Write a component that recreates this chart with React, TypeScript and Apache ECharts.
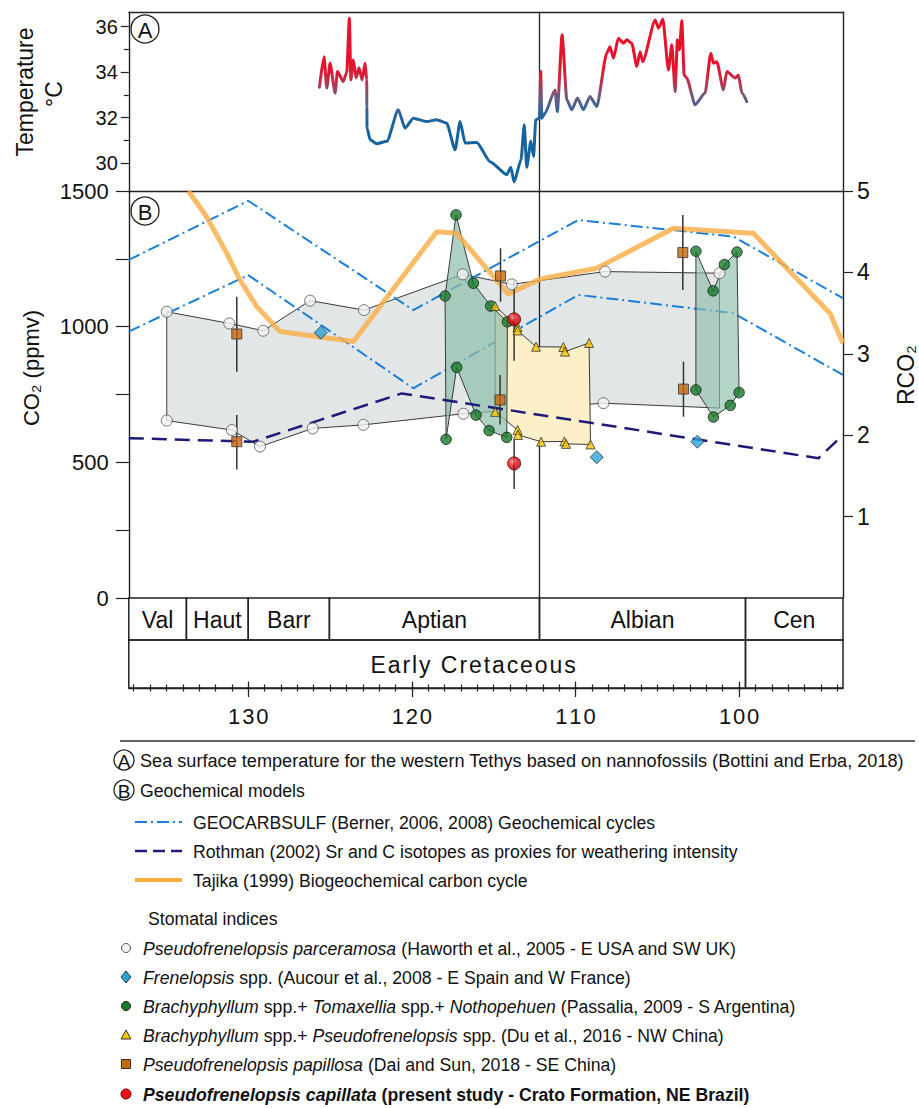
import React, { useEffect, useRef } from "react";
import * as echarts from "echarts";

const FONT = "'Liberation Sans', Arial, Helvetica, sans-serif";
const W = 919;
const H = 1108;

// ---------- axes ----------
const AGE_OLD = 137.3;
const AGE_YOUNG = 93.65;
const minorTickAges = [94, 95, 96, 97, 98, 99, 100, 101, 102, 103, 104, 105, 106, 107, 108, 109, 110, 111, 112, 113, 114, 115, 116, 117, 118, 119, 120, 121, 122, 123, 124, 125, 126, 127, 128, 129, 130, 131, 132, 133, 134, 135, 136, 137];
const majorTickAges = [100, 110, 120, 130];

const stageBounds = [137.3, 133.78, 130.0, 125.04, 112.2, 99.61, 93.65];
const stageNames = ["Val", "Haut", "Barr", "Aptian", "Albian", "Cen"];
const epochBounds = [137.3, 99.61, 93.65];
const epochNames = ["Early Cretaceous", ""];

const TEMP_MIN = 28.78;
const TEMP_MAX = 36.63;
const tempMajorTicks = [30, 32, 34, 36];
const tempMinorTicks = [31, 33, 35];

const CO2_MIN = 0;
const CO2_MAX = 1500;
const co2Ticks = [0, 250, 500, 750, 1000, 1250, 1500];
const co2Labels = [0, 500, 1000, 1500];
const rco2Ticks = [1, 2, 3, 4, 5];

// ---------- panel A : sea surface temperature ----------
const sstAge = [125.65, 125.37, 125.2, 125.0, 124.69, 124.55, 124.19, 123.98, 123.82, 123.73, 123.58, 123.41, 123.23, 123.04, 122.86, 122.76, 122.75, 122.74, 122.55, 122.15, 121.53, 120.83, 120.42, 119.91, 119.09, 118.48, 117.87, 117.36, 117.05, 116.75, 116.03, 115.22, 114.2, 113.95, 113.75, 113.33, 113.13, 112.98, 112.73, 112.56, 112.43, 112.21, 112.12, 112.06, 111.86, 111.25, 111.11, 110.82, 110.53, 110.23, 109.88, 109.52, 109.11, 108.7, 108.09, 107.89, 107.68, 107.38, 107.07, 106.86, 106.56, 106.25, 106.05, 105.89, 105.13, 104.93, 104.66, 104.32, 104.11, 103.91, 103.77, 103.65, 103.5, 103.36, 103.2, 102.69, 102.08, 101.73, 101.57, 101.36, 100.96, 100.75, 100.24, 100.04, 99.83, 99.53];
const sstTemp = [33.34, 34.68, 33.3, 34.39, 33.08, 34.03, 33.59, 34.0, 36.37, 33.66, 34.54, 33.75, 34.19, 33.66, 34.39, 33.66, 32.49, 31.54, 31.03, 30.86, 30.96, 32.35, 31.54, 31.98, 31.83, 31.91, 31.76, 30.59, 31.83, 30.89, 30.91, 30.07, 29.5, 29.82, 29.17, 30.15, 31.69, 29.82, 30.96, 30.3, 31.91, 31.98, 34.03, 31.98, 32.2, 33.22, 32.27, 35.64, 32.79, 32.35, 32.86, 32.35, 32.93, 32.49, 34.83, 35.12, 34.61, 35.49, 35.27, 35.42, 35.27, 34.25, 34.9, 34.46, 36.29, 35.93, 36.32, 34.1, 35.2, 33.15, 35.42, 34.98, 36.26, 33.88, 33.74, 32.57, 33.08, 34.83, 34.39, 34.46, 33.22, 34.03, 33.74, 33.88, 33.08, 32.71];

// ---------- panel B : geochemical models ----------
const geocarbUpperAge = [137.3, 130.0, 119.91, 109.84, 100.35, 93.65];
const geocarbUpperCO2 = [1246, 1464, 1061, 1393, 1332, 1105];
const geocarbLowerAge = [137.3, 130.0, 119.91, 109.82, 100.35, 93.65];
const geocarbLowerCO2 = [982, 1190, 773, 1117, 1050, 822];
const rothmanAge = [137.3, 129.69, 120.62, 95.15, 93.65];
const rothmanCO2 = [589, 576, 754, 515, 601];
const tajikaAge = [133.66, 132.54, 131.31, 130.5, 129.48, 128.06, 123.58, 120.72, 118.48, 117.26, 114.1, 112.16, 108.7, 104.02, 99.13, 97.08, 94.44, 93.65];
const tajikaCO2 = [1500, 1405, 1270, 1172, 1074, 982, 945, 1172, 1350, 1344, 1120, 1176, 1215, 1363, 1344, 1215, 1049, 939];

// ---------- panel B : stomatal indices ----------
const parceramosaUpperAge = [134.98, 131.16, 129.08, 126.22, 122.92, 116.89, 113.89, 108.19, 101.2];
const parceramosaUpperCO2 = [1055, 1012, 985, 1096, 1061, 1193, 1156, 1203, 1197];
const parceramosaLowerAge = [134.98, 131.0, 129.28, 126.06, 122.96, 116.85, 108.29, 101.2];
const parceramosaLowerCO2 = [654, 619, 558, 625, 638, 679, 718, 700];

const frenelopsisAge = [125.57, 108.7, 102.55];
const frenelopsisCO2 = [978, 519, 576];

const passaliaAUpperAge = [117.97, 117.3, 116.24, 115.18, 114.16];
const passaliaAUpperCO2 = [1113, 1412, 1160, 1076, 1018];
const passaliaALowerAge = [117.91, 117.26, 116.08, 115.28, 114.2];
const passaliaALowerCO2 = [585, 850, 674, 617, 592];
const passaliaBUpperAge = [102.64, 101.59, 100.9, 100.13];
const passaliaBUpperCO2 = [1278, 1132, 1229, 1275];
const passaliaBLowerAge = [102.64, 101.57, 100.54, 100.0];
const passaliaBLowerCO2 = [767, 667, 710, 757];

const duUpperAge = [114.91, 113.54, 113.54, 112.41, 110.74, 110.64, 109.17];
const duUpperCO2 = [1076, 999, 986, 926, 925, 908, 940];
const duLowerAge = [114.91, 113.54, 113.51, 112.1, 110.68, 110.57, 109.08];
const duLowerCO2 = [686, 619, 601, 576, 577, 568, 566];

const papillosaAge = [130.7, 130.7, 114.58, 114.61, 103.44, 103.4];
const papillosaCO2 = [973, 576, 1187, 730, 1273, 770];
const papillosaLow = [834, 474, 1092, 639, 1135, 668];
const papillosaHigh = [1110, 674, 1289, 822, 1412, 871];

const capillataAge = [113.75, 113.75];
const capillataCO2 = [1027, 496];
const capillataLow = [874, 402];
const capillataHigh = [1172, 582];

// ---------- helpers ----------
const pairs = (a: number[], b: number[]) => a.map((x, i) => [x, b[i]]);
const spaced = (s: string) => s.split("").join("\u200A");

const LINE = "#222";

function polygonSeries(
  upA: number[], upV: number[], loA: number[], loV: number[],
  fill: string, fillOpacity: number, z: number
) {
  return {
    type: "custom",
    xAxisIndex: 1,
    yAxisIndex: 3,
    z,
    silent: true,
    data: [[upA[0], upV[0]]],
    renderItem: (_p: any, api: any) => {
      const pts: number[][] = [];
      upA.forEach((a, i) => pts.push(api.coord([a, upV[i]])));
      for (let i = loA.length - 1; i >= 0; i--) pts.push(api.coord([loA[i], loV[i]]));
      return {
        type: "polygon",
        shape: { points: pts },
        style: { fill, fillOpacity, stroke: "#3a3a3a", lineWidth: 1 },
      };
    },
  };
}

function errorBarSeries(ages: number[], lows: number[], highs: number[], z: number) {
  return {
    type: "custom",
    xAxisIndex: 1,
    yAxisIndex: 3,
    z,
    silent: true,
    encode: { x: 0, y: [1, 2] },
    data: ages.map((a, i) => [a, lows[i], highs[i]]),
    renderItem: (_p: any, api: any) => {
      const p0 = api.coord([api.value(0), api.value(1)]);
      const p1 = api.coord([api.value(0), api.value(2)]);
      return {
        type: "line",
        shape: { x1: p0[0], y1: p0[1], x2: p1[0], y2: p1[1] },
        style: { stroke: "#333", lineWidth: 1.5 },
      };
    },
  };
}

function vLineSeries(xi: number, yi: number, age: number, y0: number, y1: number) {
  return {
    type: "custom",
    xAxisIndex: xi,
    yAxisIndex: yi,
    z: 3,
    silent: true,
    data: [[age, y0]],
    renderItem: (_p: any, api: any) => {
      const a = api.coord([api.value(0), y0]);
      const b = api.coord([api.value(0), y1]);
      return {
        type: "line",
        shape: { x1: a[0], y1: a[1], x2: b[0], y2: b[1] },
        style: { stroke: LINE, lineWidth: 1.3 },
      };
    },
  };
}

function boxRowSeries(xi: number, yi: number, bounds: number[], names: string[], dx: number, letterSpaced: boolean) {
  return {
    type: "custom",
    xAxisIndex: xi,
    yAxisIndex: yi,
    z: 3,
    silent: true,
    data: names.map((_n, i) => [bounds[i], 0.5]),
    renderItem: (p: any, api: any) => {
      const i = p.dataIndex;
      const p0 = api.coord([bounds[i], 1]);
      const p1 = api.coord([bounds[i + 1], 0]);
      return {
        type: "group",
        children: [
          {
            type: "rect",
            shape: { x: p0[0], y: p0[1], width: p1[0] - p0[0], height: p1[1] - p0[1] },
            style: { fill: "none", stroke: LINE, lineWidth: 1.5 },
          },
          {
            type: "text",
            x: (p0[0] + p1[0]) / 2 + dx,
            y: (p0[1] + p1[1]) / 2 + 1,
            style: {
              text: letterSpaced ? spaced(names[i]) : names[i],
              fontSize: 23,
              fontFamily: FONT,
              fill: "#111",
              align: "center",
              verticalAlign: "middle",
            },
          },
        ],
      };
    },
  };
}

const scatter = (ages: number[], vals: number[], symbol: string, size: number, itemStyle: any, z: number) => ({
  type: "scatter",
  xAxisIndex: 1,
  yAxisIndex: 3,
  z,
  symbol,
  symbolSize: size,
  itemStyle,
  data: pairs(ages, vals),
});

const modelLine = (ages: number[], vals: number[], color: string, width: number, type: any, z: number, opacity = 1) => ({
  type: "line",
  xAxisIndex: 1,
  yAxisIndex: 3,
  z,
  showSymbol: false,
  symbol: "none",
  silent: true,
  lineStyle: { color, width, type, opacity, cap: "butt" },
  data: pairs(ages, vals),
});

// ---------- graphic (titles, panel letters, legend) ----------
function circledLetter(cx: number, cy: number, r: number, letter: string, fs: number) {
  return [
    { type: "circle", shape: { cx, cy, r }, style: { fill: "#fff", stroke: LINE, lineWidth: 1.3 }, z: 20 },
    {
      type: "text", x: cx, y: cy + 1, z: 21,
      style: { text: letter, fontSize: fs, fontFamily: FONT, fill: "#111", align: "center", verticalAlign: "middle" },
    },
  ];
}

const LEG_FS = 19;
const LEG_SX = 0.93;
const richStyles = {
  i: { fontStyle: "italic", fontSize: LEG_FS, fontFamily: FONT, fill: "#111" },
  b: { fontWeight: "bold", fontSize: LEG_FS, fontFamily: FONT, fill: "#111" },
  bi: { fontWeight: "bold", fontStyle: "italic", fontSize: LEG_FS, fontFamily: FONT, fill: "#111" },
};
const legendText = (x: number, y: number, text: string, sx = LEG_SX) => ({
  type: "text", x, y, scaleX: sx,
  style: { text, rich: richStyles, fontSize: LEG_FS, fontFamily: FONT, fill: "#111", align: "left", verticalAlign: "middle" },
});

const stomatalEntries = [
  "{i|Pseudofrenelopsis parceramosa} (Haworth et al., 2005 - E USA and SW UK)",
  "{i|Frenelopsis} spp. (Aucour et al., 2008 - E Spain and W France)",
  "{i|Brachyphyllum} spp.+ {i|Tomaxellia} spp.+ {i|Nothopehuen} (Passalia, 2009 - S Argentina)",
  "{i|Brachyphyllum} spp.+ {i|Pseudofrenelopsis} spp. (Du et al., 2016 - NW China)",
  "{i|Pseudofrenelopsis papillosa} (Dai and Sun, 2018 - SE China)",
  "{bi|Pseudofrenelopsis capillata} {b|(present study - Crato Formation, NE Brazil)}",
];

function buildGraphic() {
  const g: any[] = [];
  // axis titles
  g.push({ type: "text", x: 25, y: 92, rotation: Math.PI / 2, style: { text: "Temperature", fontSize: 23, fontFamily: FONT, fill: "#111", align: "center", verticalAlign: "middle" } });
  g.push({ type: "text", x: 54, y: 94, rotation: Math.PI / 2, style: { text: "°C", fontSize: 23, fontFamily: FONT, fill: "#111", align: "center", verticalAlign: "middle" } });
  g.push({ type: "text", x: 31, y: 368, rotation: Math.PI / 2, style: { text: "CO₂ (ppmv)", fontSize: 22, fontFamily: FONT, fill: "#111", align: "center", verticalAlign: "middle" } });
  g.push({ type: "text", x: 906, y: 375, rotation: Math.PI / 2, style: { text: "RCO₂", fontSize: 23, fontFamily: FONT, fill: "#111", align: "center", verticalAlign: "middle" } });
  // panel letters
  g.push(...circledLetter(145, 29, 14, "A", 22));
  g.push(...circledLetter(145, 211, 14, "B", 22));

  // legend
  g.push({ type: "line", shape: { x1: 120, y1: 741, x2: 915, y2: 741 }, style: { stroke: "#666", lineWidth: 2 } });
  g.push(...circledLetter(124, 760, 10, "A", 19));
  g.push(legendText(140, 760, "Sea surface temperature for the western Tethys based on nannofossils (Bottini and Erba, 2018)", 0.955));
  g.push(...circledLetter(124, 790, 10, "B", 19));
  g.push(legendText(140, 790, "Geochemical models"));
  g.push({ type: "line", shape: { x1: 135, y1: 822, x2: 182, y2: 822 }, style: { stroke: "#1a7fd9", lineWidth: 2, lineDash: [12, 4, 2, 4] } });
  g.push(legendText(193, 822, "GEOCARBSULF (Berner, 2006, 2008) Geochemical cycles"));
  g.push({ type: "line", shape: { x1: 135, y1: 851, x2: 182, y2: 851 }, style: { stroke: "#1e1a78", lineWidth: 2.5, lineDash: [12, 6] } });
  g.push(legendText(193, 851, "Rothman (2002) Sr and C isotopes as proxies for weathering intensity"));
  g.push({ type: "line", shape: { x1: 135, y1: 880, x2: 182, y2: 880 }, style: { stroke: "#f9ad45", lineWidth: 4 } });
  g.push(legendText(193, 880, "Tajika (1999) Biogeochemical carbon cycle"));
  g.push(legendText(148, 918, "Stomatal indices"));

  const ys = [948, 977, 1006, 1035, 1064, 1094];
  const mx = 126;
  g.push({ type: "circle", shape: { cx: mx, cy: ys[0], r: 4.5 }, style: { fill: "#f3f3f3", stroke: "#555", lineWidth: 1 } });
  g.push({ type: "polygon", shape: { points: [[mx, ys[1] - 6], [mx + 5, ys[1]], [mx, ys[1] + 6], [mx - 5, ys[1]]] }, style: { fill: "#2aa3db", stroke: "#333", lineWidth: 1 } });
  g.push({ type: "circle", shape: { cx: mx, cy: ys[2], r: 4.5 }, style: { fill: "#177a2a", stroke: "#222", lineWidth: 1 } });
  g.push({ type: "polygon", shape: { points: [[mx, ys[3] - 5], [mx + 5, ys[3] + 4], [mx - 5, ys[3] + 4]] }, style: { fill: "#f6c500", stroke: "#333", lineWidth: 1 } });
  g.push({ type: "rect", shape: { x: mx - 4.5, y: ys[4] - 4.5, width: 9, height: 9 }, style: { fill: "#c7670c", stroke: "#333", lineWidth: 1 } });
  g.push({ type: "circle", shape: { cx: mx, cy: ys[5], r: 5 }, style: { fill: "#e8101a", stroke: "#600", lineWidth: 1 } });
  stomatalEntries.forEach((t, i) => g.push(legendText(143, ys[i], t)));
  return g;
}

// ---------- option ----------
const gridL = 128.8;
const gridW = 714.2;

const hiddenX = (gridIndex: number, position: string, showLine: boolean) => ({
  type: "value",
  gridIndex,
  position,
  min: AGE_YOUNG,
  max: AGE_OLD,
  inverse: true,
  axisLine: { show: showLine, onZero: false, lineStyle: { color: LINE, width: 1.4 } },
  axisTick: { show: false },
  axisLabel: { show: false },
  splitLine: { show: false },
});

const tickX = (inside: boolean, values: number[], length: number, withLabels: boolean) => ({
  type: "value",
  gridIndex: 3,
  position: "bottom",
  min: AGE_YOUNG,
  max: AGE_OLD,
  inverse: true,
  axisLine: { show: withLabels, onZero: false, lineStyle: { color: LINE, width: 1.4 } },
  axisTick: { show: true, inside, length, customValues: values, lineStyle: { color: LINE, width: 1.2 } },
  axisLabel: withLabels
    ? { show: true, customValues: majorTickAges, fontSize: 22, fontFamily: FONT, color: "#111", margin: 17, formatter: (v: number) => spaced(String(v)) }
    : { show: false },
  splitLine: { show: false },
});

const option: any = {
  animation: false,
  backgroundColor: "#fff",
  grid: [
    { left: gridL, width: gridW, top: 12.3, height: 178.7 },
    { left: gridL, width: gridW, top: 191, height: 407 },
    { left: gridL, width: gridW, top: 598, height: 42 },
    { left: gridL, width: gridW, top: 640, height: 48 },
  ],
  xAxis: [
    hiddenX(0, "top", true),
    hiddenX(1, "top", true),
    hiddenX(2, "bottom", false),
    tickX(false, minorTickAges, 3.5, true),
    tickX(true, minorTickAges, 3.5, false),
    tickX(false, majorTickAges, 9, false),
    tickX(true, majorTickAges, 6.5, false),
  ],
  yAxis: [
    {
      type: "value", gridIndex: 0, position: "left", min: TEMP_MIN, max: TEMP_MAX,
      axisLine: { show: true, onZero: false, lineStyle: { color: LINE, width: 1.4 } },
      axisTick: { show: true, customValues: tempMajorTicks, length: 8, lineStyle: { color: LINE, width: 1.2 } },
      axisLabel: { show: true, customValues: tempMajorTicks, fontSize: 20, fontFamily: FONT, color: "#111", margin: 11 },
      splitLine: { show: false },
    },
    {
      type: "value", gridIndex: 0, position: "left", min: TEMP_MIN, max: TEMP_MAX,
      axisLine: { show: false, onZero: false },
      axisTick: { show: true, customValues: tempMinorTicks, length: 5, lineStyle: { color: LINE, width: 1.2 } },
      axisLabel: { show: false },
      splitLine: { show: false },
    },
    {
      type: "value", gridIndex: 0, position: "right", min: TEMP_MIN, max: TEMP_MAX,
      axisLine: { show: true, onZero: false, lineStyle: { color: LINE, width: 1.4 } },
      axisTick: { show: false }, axisLabel: { show: false }, splitLine: { show: false },
    },
    {
      type: "value", gridIndex: 1, position: "left", min: CO2_MIN, max: CO2_MAX,
      axisLine: { show: true, onZero: false, lineStyle: { color: LINE, width: 1.4 } },
      axisTick: { show: true, customValues: co2Ticks, length: 13, lineStyle: { color: LINE, width: 1.2 } },
      axisLabel: { show: true, customValues: co2Labels, fontSize: 22, fontFamily: FONT, color: "#111", margin: 20, formatter: (v: number) => String(v) },
      splitLine: { show: false },
    },
    {
      type: "value", gridIndex: 1, position: "right", min: 0, max: 5,
      axisLine: { show: true, onZero: false, lineStyle: { color: LINE, width: 1.4 } },
      axisTick: { show: true, customValues: rco2Ticks, length: 10, lineStyle: { color: LINE, width: 1.2 } },
      axisLabel: { show: true, customValues: rco2Ticks, fontSize: 23, fontFamily: FONT, color: "#111", margin: 14 },
      splitLine: { show: false },
    },
    { type: "value", gridIndex: 2, min: 0, max: 1, show: false },
    { type: "value", gridIndex: 3, min: 0, max: 1, show: false },
  ],
  visualMap: [
    {
      type: "continuous",
      show: false,
      seriesIndex: 0,
      dimension: 1,
      min: 31.6,
      max: 34.2,
      inRange: { color: ["#15639f", "#2c65a0", "#6a5d82", "#c0304a", "#e5132b"] },
    },
  ],
  series: [
    {
      type: "line",
      xAxisIndex: 0,
      yAxisIndex: 0,
      z: 4,
      showSymbol: false,
      symbol: "none",
      smooth: 0.2,
      smoothMonotone: "x",
      lineStyle: { width: 3, cap: "round", join: "round" },
      data: pairs(sstAge, sstTemp),
    },
    vLineSeries(0, 0, stageBounds[4], TEMP_MIN, TEMP_MAX),
    vLineSeries(1, 3, stageBounds[4], CO2_MIN, CO2_MAX),
    boxRowSeries(2, 5, stageBounds, stageNames, 0, false),
    boxRowSeries(3, 6, epochBounds, epochNames, 36, true),

    polygonSeries(parceramosaUpperAge, parceramosaUpperCO2, parceramosaLowerAge, parceramosaLowerCO2, "#e2e6e6", 1, 1),
    modelLine(geocarbUpperAge, geocarbUpperCO2, "#1a7fd9", 2, [12, 4, 2, 4], 2),
    modelLine(geocarbLowerAge, geocarbLowerCO2, "#1a7fd9", 2, [12, 4, 2, 4], 2),
    polygonSeries(duUpperAge, duUpperCO2, duLowerAge, duLowerCO2, "#fdf0c9", 1, 3),
    polygonSeries(passaliaAUpperAge, passaliaAUpperCO2, passaliaALowerAge, passaliaALowerCO2, "#8fbfac", 0.72, 4),
    polygonSeries(passaliaBUpperAge, passaliaBUpperCO2, passaliaBLowerAge, passaliaBLowerCO2, "#8fbfac", 0.65, 4),
    modelLine(rothmanAge, rothmanCO2, "#1e1a78", 2.5, [15, 8], 5),
    modelLine(tajikaAge, tajikaCO2, "#f9ad45", 5, "solid", 5, 0.82),
    errorBarSeries(papillosaAge, papillosaLow, papillosaHigh, 6),
    errorBarSeries(capillataAge, capillataLow, capillataHigh, 6),

    scatter(parceramosaUpperAge.concat(parceramosaLowerAge.slice(0, -1)), parceramosaUpperCO2.concat(parceramosaLowerCO2.slice(0, -1)), "circle", 11, { color: "#f4f4f4", borderColor: "#555", borderWidth: 1 }, 7),
    scatter(frenelopsisAge, frenelopsisCO2, "diamond", 13, { color: "#2aa3db", borderColor: "#333", borderWidth: 1 }, 7),
    scatter(passaliaAUpperAge.concat(passaliaALowerAge, passaliaBUpperAge, passaliaBLowerAge), passaliaAUpperCO2.concat(passaliaALowerCO2, passaliaBUpperCO2, passaliaBLowerCO2), "circle", 10.5, { color: "#177a2a", borderColor: "#1a1a1a", borderWidth: 1 }, 8),
    scatter(duUpperAge.concat(duLowerAge), duUpperCO2.concat(duLowerCO2), "triangle", 9, { color: "#f6c500", borderColor: "#333", borderWidth: 1 }, 9),
    scatter(papillosaAge, papillosaCO2, "rect", 10, { color: "#c7670c", borderColor: "#333", borderWidth: 1 }, 10),
    scatter(capillataAge, capillataCO2, "circle", 13, {
      color: new echarts.graphic.RadialGradient(0.38, 0.35, 0.7, [
        { offset: 0, color: "#ff8a8a" },
        { offset: 0.45, color: "#ec1014" },
        { offset: 1, color: "#a8000a" },
      ]),
      borderColor: "#5a0000",
      borderWidth: 1,
    }, 11),
  ],
  graphic: buildGraphic(),
};

export default function App() {
  const ref = useRef<HTMLDivElement>(null);
  useEffect(() => {
    if (!ref.current) return;
    const chart = echarts.init(ref.current, null, { renderer: "svg" });
    chart.setOption(option);
    return () => chart.dispose();
  }, []);
  return (
    <div
      ref={ref}
      style={{ position: "absolute", left: 0, top: 0, width: W, height: H, background: "#fff" }}
    />
  );
}
